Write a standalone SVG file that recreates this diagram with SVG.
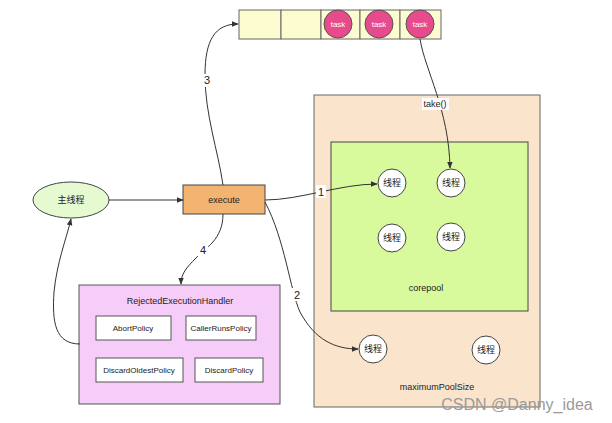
<svg xmlns="http://www.w3.org/2000/svg" width="612" height="423" viewBox="0 0 612 423">
<defs>
<marker id="ah" viewBox="0 0 10 10" refX="9" refY="5" markerWidth="7" markerHeight="7" markerUnits="userSpaceOnUse" orient="auto">
<path d="M0,1 L10,5 L0,9 z" fill="#333"/>
</marker>
<style>
text{font-family:"Liberation Sans","Noto Sans CJK SC",sans-serif;font-size:9px;fill:#222;text-anchor:middle;dominant-baseline:central}
.cell{fill:#fdfbd0;stroke:#666;stroke-width:1}
.task{fill:#e84b8d;stroke:#555;stroke-width:1}
.tt{fill:#fff;font-size:8px}
.thr{fill:#fff;stroke:#444;stroke-width:1}
.pol{fill:#fff;stroke:#555;stroke-width:1}
.pt{font-size:8px}
.conn{fill:none;stroke:#333;stroke-width:1;marker-end:url(#ah)}
.lbl{font-size:11px}
</style>
</defs>
<rect width="612" height="423" fill="#fff"/>
<g id="queue">
<rect class="cell" x="239" y="10" width="42" height="29"/>
<rect class="cell" x="281" y="10" width="40" height="29"/>
<rect class="cell" x="321" y="10" width="39" height="29"/>
<rect class="cell" x="360" y="10" width="40" height="29"/>
<rect class="cell" x="400" y="10" width="41" height="29"/>
<circle class="task" cx="338" cy="24" r="14"/><text class="tt" x="338" y="24">task</text>
<circle class="task" cx="379" cy="24" r="14"/><text class="tt" x="379" y="24">task</text>
<circle class="task" cx="420" cy="24" r="14"/><text class="tt" x="420" y="24">task</text>
</g>
<g id="maximumPoolSize">
<rect x="314" y="95" width="226" height="312" fill="#fae4cc" stroke="#666"/>
<text x="437" y="387">maximumPoolSize</text>
</g>
<g id="corepool">
<rect x="331" y="142" width="197" height="169" fill="#d8f99c" stroke="#444"/>
<text x="426" y="288">corepool</text>
</g>
<g id="t1"><circle class="thr" cx="392" cy="183" r="14"/><text x="392" y="183">线程</text></g>
<g id="t2"><circle class="thr" cx="451" cy="183" r="14"/><text x="451" y="183">线程</text></g>
<g id="t3"><circle class="thr" cx="392" cy="238" r="14"/><text x="392" y="238">线程</text></g>
<g id="t4"><circle class="thr" cx="451" cy="237" r="14"/><text x="451" y="237">线程</text></g>
<g id="t5"><circle class="thr" cx="373" cy="349" r="14"/><text x="373" y="349">线程</text></g>
<g id="t6"><circle class="thr" cx="486" cy="350" r="14"/><text x="486" y="350">线程</text></g>
<g id="main">
<ellipse cx="71" cy="200" rx="38" ry="18" fill="#e6fad2" stroke="#444"/>
<text x="71" y="200">主线程</text>
</g>
<g id="execute">
<rect x="183" y="185" width="82" height="29" fill="#f3b371" stroke="#444"/>
<text x="224" y="200">execute</text>
</g>
<g id="rejected">
<rect x="79" y="285" width="201" height="119" fill="#f6cdf8" stroke="#555"/>
<text x="180" y="301">RejectedExecutionHandler</text>
<rect class="pol" x="96" y="316" width="75" height="24"/><text class="pt" x="133" y="328">AbortPolicy</text>
<rect class="pol" x="186" y="316" width="70" height="24"/><text class="pt" x="221" y="328">CallerRunsPolicy</text>
<rect class="pol" x="96" y="358" width="87" height="24"/><text class="pt" x="139" y="370">DiscardOldestPolicy</text>
<rect class="pol" x="195" y="358" width="68" height="24"/><text class="pt" x="229" y="370">DiscardPolicy</text>
</g>
<g id="connectors">
<path class="conn" d="M109,200 L183,200"/>
<path class="conn" d="M223,185 C218,150 205,115 205,75 C205,40 215,24 238,24"/>
<path class="conn" d="M420,39 C425,70 449,110 450,168"/>
<path class="conn" d="M265,200 C300,200 340,184 377,184"/>
<path class="conn" d="M265,202 C285,240 290,290 300,312 C315,340 335,349 358,349"/>
<path class="conn" d="M223,214 C223,240 205,248 196,258 C186,268 181,274 181,284"/>
<path class="conn" d="M80,344 C55,344 52,322 54,292 C57,262 66,240 71,219"/>
<rect x="202" y="74" width="10" height="13" fill="#fff"/><text class="lbl" x="207" y="80">3</text>
<rect x="422" y="98" width="27" height="12" fill="#fff"/><text x="435" y="104">take()</text>
<rect x="316" y="185" width="10" height="13" fill="#fff"/><text class="lbl" x="321" y="192">1</text>
<rect x="292" y="288" width="10" height="13" fill="#fff"/><text class="lbl" x="297" y="295">2</text>
<rect x="198" y="244" width="10" height="13" fill="#fff"/><text class="lbl" x="203" y="250">4</text>
</g>
<text x="517" y="404" style="font-size:16px;fill:#9a9a9a">CSDN @Danny_idea</text>
</svg>
